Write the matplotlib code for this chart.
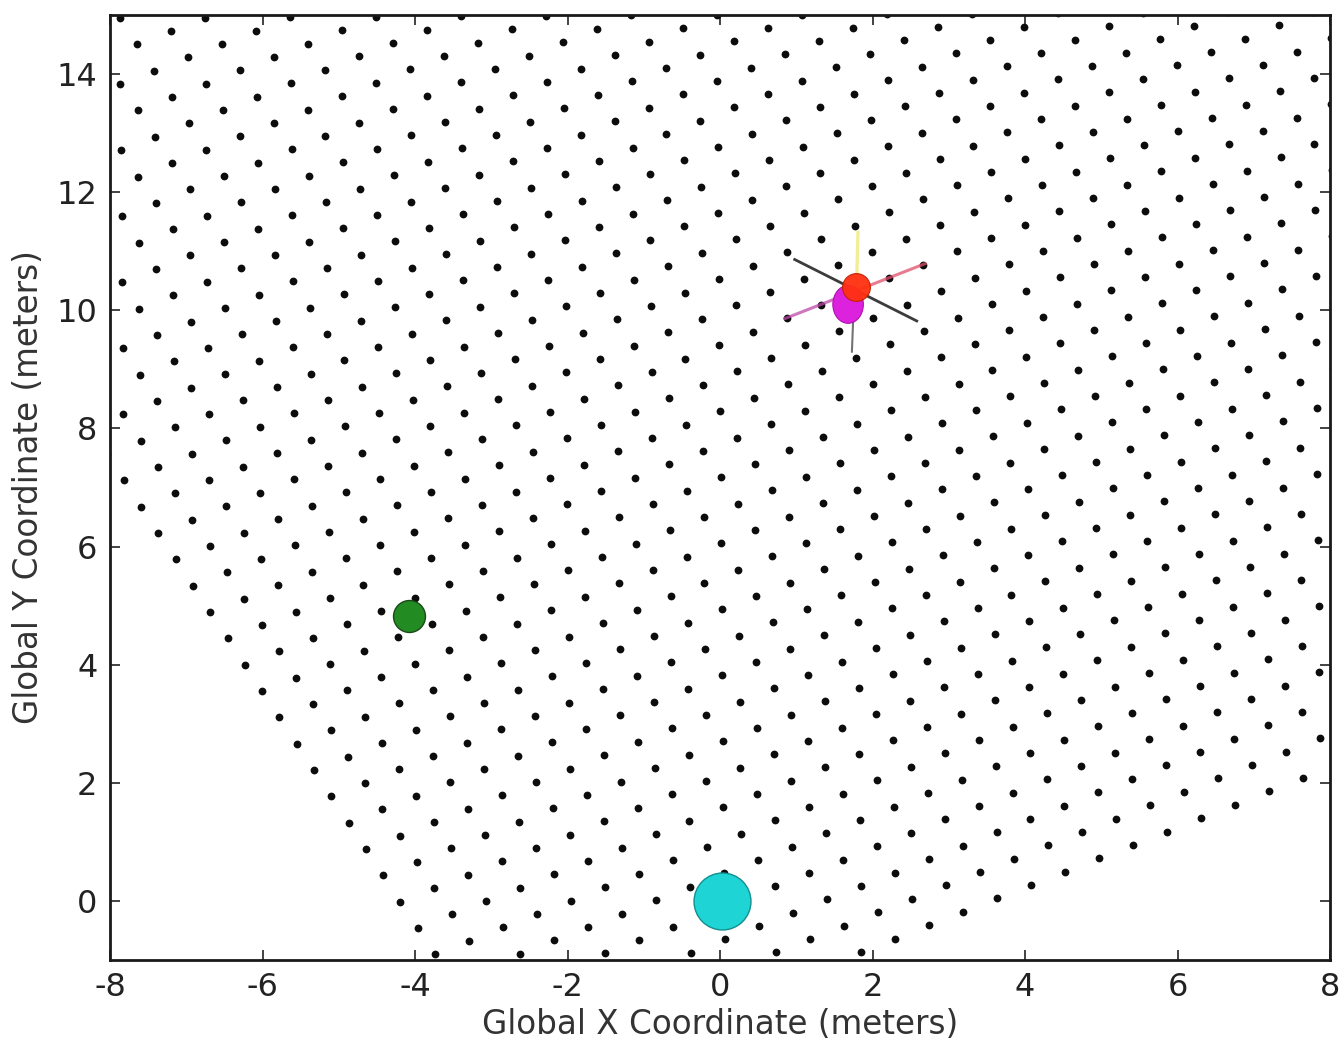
#!/usr/bin/env python3
"""Candidate-position grid with tracked objects, in global coordinates."""

import numpy as np
import matplotlib
matplotlib.use("Agg")
import matplotlib.pyplot as plt
from matplotlib.patches import Ellipse

# candidate grid: square lattice, rotated
GRID_ORIGIN = (-2.606, -3.130)    # corner of the grid (below the view)
GRID_SPACING = 0.5                # meters between neighbouring points
GRID_ANGLE_DEG = 26.95            # rotation of the lattice
GRID_I = np.arange(0, 42)         # columns along the rotated x axis
GRID_J = np.arange(0, 42)         # rows along the rotated y axis

# tracked objects (global x, y)
robot_xy = (0.02, 0.0)
green_xy = (-4.08, 4.83)
red_xy = (1.79, 10.40)
magenta_xy = (1.68, 10.10)

# heading / bearing lines around the red object
black_line_x = [0.98, 2.58]
black_line_y = [10.86, 9.82]
pink_line_x = [0.85, 1.78, 2.69]
pink_line_y = [9.86, 10.33, 10.79]
yellow_line_x = [1.79, 1.81]
yellow_line_y = [10.40, 11.32]
grey_line_x = [1.76, 1.73]
grey_line_y = [10.30, 9.30]

X_TICKS = [-8, -6, -4, -2, 0, 2, 4, 6, 8]
Y_TICKS = [0, 2, 4, 6, 8, 10, 12, 14]


def grid_points():
    th = np.deg2rad(GRID_ANGLE_DEG)
    ii, jj = np.meshgrid(GRID_I, GRID_J)
    gx = GRID_SPACING * (ii * np.cos(th) - jj * np.sin(th)) + GRID_ORIGIN[0]
    gy = GRID_SPACING * (ii * np.sin(th) + jj * np.cos(th)) + GRID_ORIGIN[1]
    return gx.ravel(), gy.ravel()


def main():
    plt.rcParams["axes.unicode_minus"] = False
    plt.rcParams["font.family"] = "DejaVu Sans"

    fig = plt.figure(figsize=(13.44, 10.44), dpi=100)
    ax = fig.add_axes([110 / 1344, 84 / 1044, 1220 / 1344, 945 / 1044])

    gx, gy = grid_points()
    ax.plot(gx, gy, "o", color="#0c0c0c", markersize=5.6, markeredgewidth=0, zorder=2)

    # lines through the red object
    ax.plot(black_line_x, black_line_y, color="#1a1a1a", lw=2.0, alpha=0.85, zorder=3)
    ax.plot(pink_line_x[:2], pink_line_y[:2], color="#c04aa8", lw=2.2, alpha=0.75, zorder=3)
    ax.plot(pink_line_x[1:], pink_line_y[1:], color="#e0506a", lw=2.2, alpha=0.75, zorder=3)
    ax.plot(yellow_line_x, yellow_line_y, color="#f2ec8a", lw=2.4, alpha=0.9, zorder=3)
    ax.plot(grey_line_x, grey_line_y, color="#505050", lw=1.5, alpha=0.8, zorder=3)

    ax.add_patch(Ellipse(magenta_xy, 0.40, 0.64, facecolor="#dd22dd",
                         edgecolor="#b010b0", lw=0.8, zorder=4))
    ax.plot(*red_xy, "o", color="#ff3010", markersize=20, markeredgecolor="#c02000",
            markeredgewidth=0.8, alpha=0.95, zorder=5)

    ax.plot(*green_xy, "o", color="#228b22", markersize=23, markeredgecolor="#1a4a1a",
            markeredgewidth=1.0, zorder=5)
    ax.plot(*robot_xy, "o", color="#1ed4d4", markersize=41, markeredgecolor="#148f8f",
            markeredgewidth=1.0, zorder=5)

    ax.set_xlim(-8, 8)
    ax.set_ylim(-1, 15)
    ax.set_xticks(X_TICKS)
    ax.set_yticks(Y_TICKS)
    ax.tick_params(direction="in", length=7, width=1.2, top=True, right=True,
                   labelsize=23, pad=9, colors="#222222")
    for sp in ax.spines.values():
        sp.set_linewidth(2.0)
        sp.set_color("#1a1a1a")

    ax.set_xlabel("Global X Coordinate (meters)", fontsize=23.5, color="#333333", labelpad=3)
    ax.set_ylabel("Global Y Coordinate (meters)", fontsize=23.5, color="#333333", labelpad=8)

    fig.savefig("out.png", dpi=100)
    plt.close(fig)


if __name__ == "__main__":
    main()
